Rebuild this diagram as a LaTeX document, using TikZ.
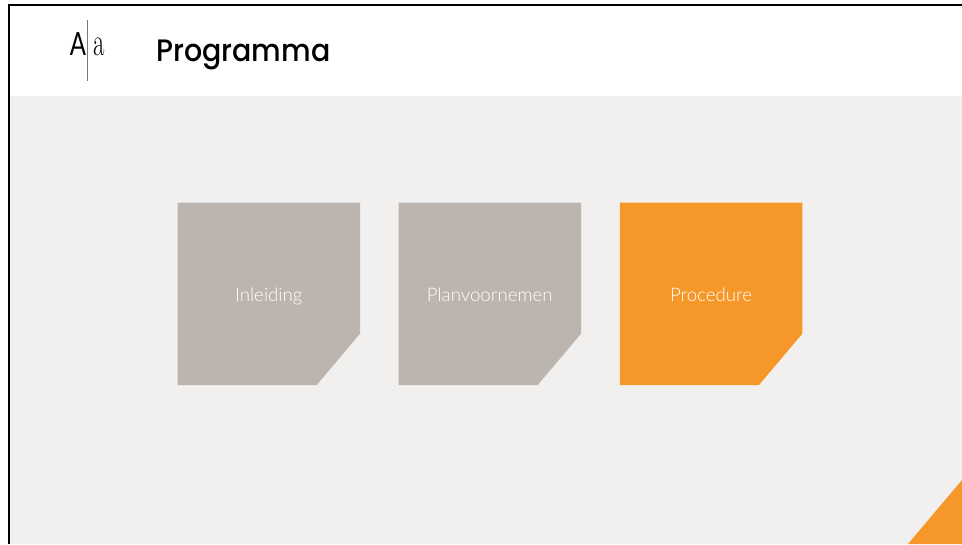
\documentclass[tikz,border=0pt]{standalone}
\usepackage{fontspec}
\setmainfont{Lato}
\newfontfamily\lightfont{Lato Light}
\newfontfamily\titlefont{Poppins Medium}
\newfontfamily\serifont{Latin Modern Roman}
\usetikzlibrary{positioning,calc}
\definecolor{pagegrey}{HTML}{F1F0EE}
\definecolor{cardgrey}{HTML}{BCB4AE}
\definecolor{cardorange}{HTML}{F6972A}
\definecolor{logoline}{HTML}{7A7A7A}
\tikzset{
  card/.style={insert path={
      ++(-91.25,91.25) -- ++(182.5,0) -- ++(0,-131) -- ++(-43.5,-51.5) -- ++(-139,0) -- cycle}},
  cardlabel/.style={text=white,anchor=base,font=\lightfont\fontsize{18.7}{21}\selectfont,inner sep=0pt},
}

\begin{document}
\begin{tikzpicture}[x=1pt,y=1pt]
  \useasboundingbox (0,0) rectangle (962,544);
  % page
  \fill[pagegrey] (9,0) rectangle (962,448);
  \draw[line width=2pt] (9,0) -- (9,539) -- (962,539);
  % logo and title
  \node[anchor=base,inner sep=0pt,xscale=.75,font=\fontsize{32}{32}\selectfont](logo-a) at (78,488){A};
  \node[anchor=base,inner sep=0pt,xscale=.62,font=\fontsize{40}{40}\selectfont\serifont](logo-b) at (99,488){a};
  \coordinate(logo-top) at (87,524);
  \coordinate(logo-bottom) at (87,463);
  \draw[logoline,line width=0.8pt] (logo-top) -- (logo-bottom);
  \node[anchor=base west,inner sep=0pt,xscale=.92,font=\titlefont\fontsize{31}{31}\selectfont](title) at (156,482){Programma};
  % cards
  \coordinate(inleiding) at (268.75,250);
  \coordinate(planvoornemen) at ($(inleiding)+(221,0)$);
  \coordinate(procedure) at ($(planvoornemen)+(221.25,0)$);
  \fill[cardgrey] (inleiding) [card];
  \fill[cardgrey] (planvoornemen) [card];
  \fill[cardorange] (procedure) [card];
  \node[cardlabel](inleiding-label) at ($(inleiding)+(0,-8)$){Inleiding};
  \node[cardlabel](planvoornemen-label) at ($(planvoornemen)+(0,-8)$){Planvoornemen};
  \node[cardlabel](procedure-label) at ($(procedure)+(0,-8)$){Procedure};
  % corner
  \fill[cardorange] (962,64) -- (908,0) -- (962,0) -- cycle;
\end{tikzpicture}
\end{document}
